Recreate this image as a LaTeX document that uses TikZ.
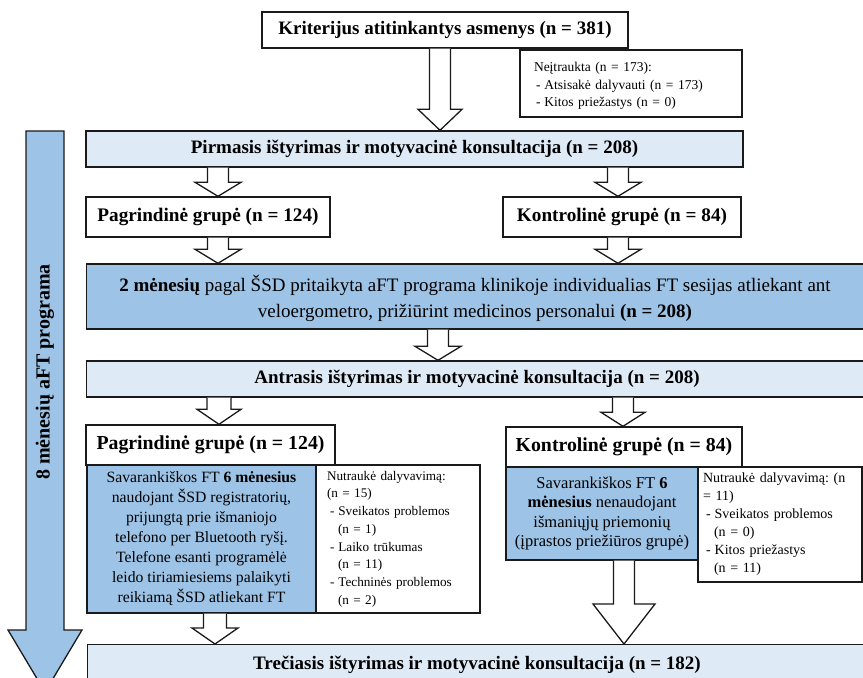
\documentclass[tikz,border=0pt]{standalone}
\usepackage{fontspec}
\setmainfont{Liberation Serif}
\usetikzlibrary{calc}
\frenchspacing
\definecolor{lightb}{HTML}{DEEBF7}
\definecolor{darkb}{HTML}{9DC3E6}
\definecolor{edge}{HTML}{1A1A1A}
\newcommand\fsz[2]{\fontsize{#1}{#2}\selectfont}
% block arrow between two named nodes: from, to, x, shaft width, head width, head length
\newcommand\blockarr[6]{%
  \draw[fatarrow] let \p1=(#1.south), \p2=(#2.north) in
    ({#3pt-#4pt/2},\y1) -- ({#3pt-#4pt/2},{\y2+#6pt}) -- ({#3pt-#5pt/2},{\y2+#6pt})
    -- (#3pt,\y2) -- ({#3pt+#5pt/2},{\y2+#6pt}) -- ({#3pt+#4pt/2},{\y2+#6pt})
    -- ({#3pt+#4pt/2},\y1);}
\begin{document}
\begin{tikzpicture}[x=1pt,y=-1pt,
  box/.style={draw=edge, line width=1.4pt, inner sep=0pt, rectangle},
  whitebox/.style={box, fill=white},
  lightbox/.style={box, fill=lightb},
  darkbox/.style={box, fill=darkb},
  fatarrow/.style={draw=edge, line width=1.3pt, fill=white, line join=miter},
  sidearrow/.style={draw=edge, line width=1.3pt, fill=darkb, line join=miter},
  bighead/.style={font=\bfseries\fsz{19}{22}},
  grp/.style={font=\bfseries\fsz{19.2}{21}},
  grpb/.style={font=\bfseries\fsz{19.8}{22}},
  small/.style={font=\fsz{13.5}{17.5}, align=left},
  note/.style={font=\fsz{13.2}{17.7}, align=left},
  body/.style={font=\fsz{15.7}{20}, align=center}]
\useasboundingbox (0,0) rectangle (863,678);
\fill[white] (0,0) rectangle (863,678);

% side arrow
\draw[sidearrow] (26,131) -- (26,630) -- (8,630) -- (45,692) -- (82,630) -- (64,630) -- (64,131) -- cycle;
\node[rotate=90, font=\bfseries\fsz{20}{22}] (side) at (45,372) {8 mėnesių aFT programa};

% top
\node[whitebox, minimum width=366pt, minimum height=36pt, bighead] (top) at (445,30)
  {Kriterijus atitinkantys asmenys (n = 381)};
\node[whitebox, minimum width=222pt, minimum height=67pt, text width=194pt, inner xsep=14pt, small] (excl) at (631,83.5)
  {\rule{0pt}{14pt}Neįtraukta (n = 173):\\
   \hspace*{2pt}-\hspace*{4pt}Atsisakė dalyvauti (n = 173)\\
   \hspace*{2pt}-\hspace*{4pt}Kitos priežastys (n = 0)};

% first round
\node[lightbox, minimum width=657pt, minimum height=36pt, bighead] (pirm) at (414.5,149)
  {Pirmasis ištyrimas ir motyvacinė konsultacija (n = 208)};
\node[whitebox, minimum width=244pt, minimum height=40pt, grp] (pag1) at (208,217)
  {Pagrindinė grupė (n = 124)};
\node[whitebox, minimum width=238pt, minimum height=40pt, grp] (kon1) at (622,217)
  {Kontrolinė grupė (n = 84)};

% 2 months
\node[darkbox, minimum width=790pt, minimum height=65pt, anchor=west] (men2) at (86,296.5) {};
\node[font=\fsz{19}{26}, align=center] (men2text) at (475,298)
  {\textbf{2 mėnesių} pagal ŠSD pritaikyta aFT programa klinikoje individualias FT sesijas atliekant ant\\
   veloergometro, prižiūrint medicinos personalui \textbf{(n = 208)}};

% second round
\node[lightbox, minimum width=790pt, minimum height=36pt, anchor=west] (antr) at (86,379) {};
\node[bighead] (antrtext) at (477,379) {Antrasis ištyrimas ir motyvacinė konsultacija (n = 208)};

\node[whitebox, minimum width=249pt, minimum height=40pt, grpb] (pag2) at (210.5,445)
  {Pagrindinė grupė (n = 124)};
\node[whitebox, minimum width=236pt, minimum height=40pt, grpb] (kon2) at (624,447)
  {Kontrolinė grupė (n = 84)};

\node[darkbox, minimum width=229pt, minimum height=148pt, body] (blue1) at (201.5,539)
  {Savarankiškos FT \textbf{6 mėnesius}\\
   naudojant ŠSD registratorių,\\
   prijungtą prie išmaniojo\\
   telefono per Bluetooth ryšį.\\
   Telefone esanti programėlė\\
   leido tiriamiesiems palaikyti\\
   reikiamą ŠSD atliekant FT};
\node[whitebox, minimum width=164pt, minimum height=148pt, text width=142pt, inner xsep=11pt, note] (nut1) at (398,539)
  {Nutraukė dalyvavimą:\\
   (n = 15)\\
   \hspace*{3pt}-\hspace*{4pt}Sveikatos problemos\\
   \hspace*{11pt}(n = 1)\\
   \hspace*{3pt}-\hspace*{4pt}Laiko trūkumas\\
   \hspace*{11pt}(n = 11)\\
   \hspace*{3pt}-\hspace*{4pt}Techninės problemos\\
   \hspace*{11pt}(n = 2)};

\node[darkbox, minimum width=192pt, minimum height=93pt, body, font=\fsz{16.5}{19.5}] (blue2) at (602,513.5)
  {Savarankiškos FT \textbf{6}\\
   \textbf{mėnesius} nenaudojant\\
   išmaniųjų priemonių\\
   (įprastos priežiūros grupė)};
\node[whitebox, minimum width=164pt, minimum height=115pt, text width=154pt, inner xsep=5pt, note, font=\fsz{14}{18}] (nut2) at (780,524.5)
  {Nutraukė dalyvavimą: (n\\
   = 11)\\
   \hspace*{3pt}-\hspace*{4pt}Sveikatos problemos\\
   \hspace*{11pt}(n = 0)\\
   \hspace*{3pt}-\hspace*{4pt}Kitos priežastys\\
   \hspace*{11pt}(n = 11)};

% third round
\node[lightbox, minimum width=790pt, minimum height=48pt, anchor=north west] (trec) at (87,644) {};
\node[bighead] (trectext) at (477,665) {Trečiasis ištyrimas ir motyvacinė konsultacija (n = 182)};

% arrows
\blockarr{top}{pirm}{440}{21}{44}{21}
\blockarr{pirm}{pag1}{218}{21}{46}{14}
\blockarr{pirm}{kon1}{618}{21}{46}{14}
\blockarr{pag1}{men2}{218}{21}{46}{14}
\blockarr{kon1}{men2}{618}{21}{46}{14}
\blockarr{men2}{antr}{438}{21}{46}{14}
\blockarr{antr}{pag2}{219}{24}{44}{15}
\blockarr{antr}{kon2}{623}{21}{44}{14}
\blockarr{blue1}{trec}{215}{23}{46}{16}
\blockarr{blue2}{trec}{624}{21}{62}{40}
\end{tikzpicture}
\end{document}
